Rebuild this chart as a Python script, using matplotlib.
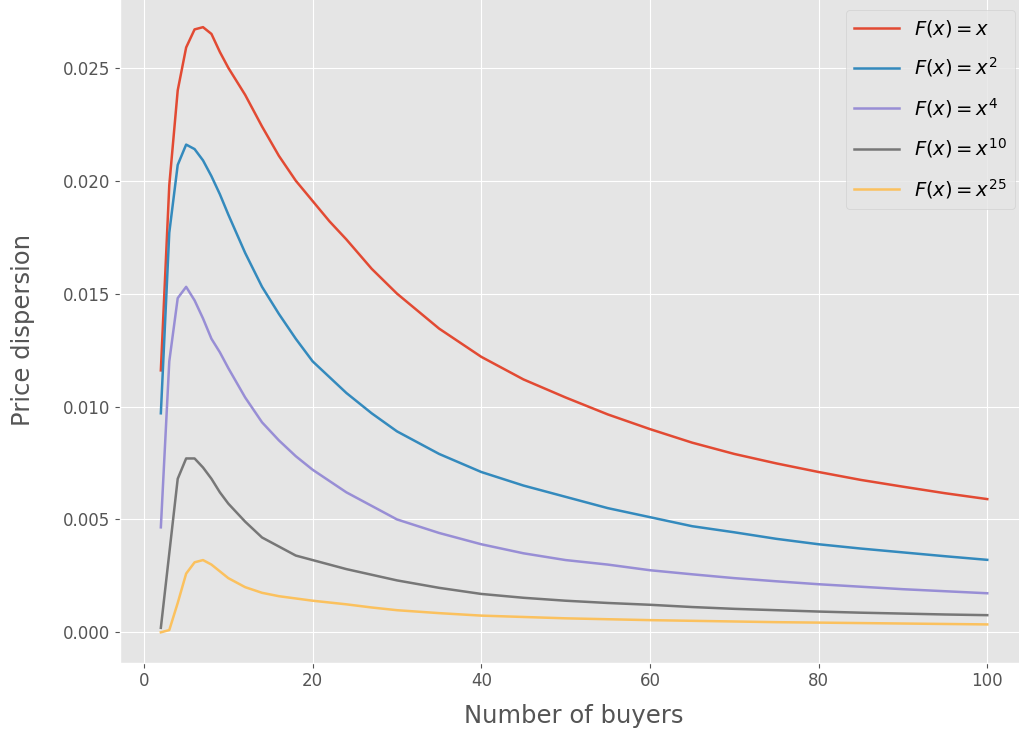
import matplotlib.pyplot as plt

plt.style.use("ggplot")

# values
buyers = [2, 3, 4, 5, 6, 7, 8, 9, 10, 12, 14, 16, 18, 20, 22, 24, 27, 30, 35, 40,
          45, 50, 55, 60, 65, 70, 75, 80, 85, 90, 95, 100]

disp_x1 = [0.0116, 0.0198, 0.0240, 0.0259, 0.0267, 0.0268, 0.0265, 0.0257, 0.0250,
           0.0238, 0.0224, 0.0211, 0.0200, 0.0191, 0.0182, 0.0174, 0.0161, 0.0150,
           0.01345, 0.0122, 0.0112, 0.0104, 0.00965, 0.0090, 0.0084, 0.0079, 0.00748,
           0.0071, 0.00675, 0.00645, 0.00616, 0.0059]
disp_x2 = [0.0097, 0.0177, 0.0207, 0.0216, 0.0214, 0.0209, 0.0202, 0.0194, 0.0185,
           0.0168, 0.0153, 0.0141, 0.0130, 0.0120, 0.0113, 0.0106, 0.0097, 0.0089,
           0.0079, 0.0071, 0.0065, 0.0060, 0.0055, 0.0051, 0.0047, 0.00443, 0.00414,
           0.0039, 0.00371, 0.00354, 0.00337, 0.00321]
disp_x4 = [0.00465, 0.0120, 0.0148, 0.0153, 0.0147, 0.0139, 0.0130, 0.0124, 0.0117,
           0.0104, 0.0093, 0.0085, 0.0078, 0.0072, 0.0067, 0.0062, 0.0056, 0.0050,
           0.0044, 0.0039, 0.0035, 0.0032, 0.0030, 0.00275, 0.00257, 0.0024, 0.00226,
           0.00213, 0.00202, 0.00191, 0.00182, 0.00173]
disp_x10 = [0.0002, 0.0035, 0.0068, 0.0077, 0.0077, 0.0073, 0.0068, 0.0062, 0.0057,
            0.0049, 0.0042, 0.0038, 0.0034, 0.0032, 0.0030, 0.0028, 0.00255, 0.0023,
            0.00197, 0.0017, 0.00153, 0.0014, 0.0013, 0.00122, 0.00112, 0.00104,
            0.00098, 0.00092, 0.00087, 0.00083, 0.00079, 0.00076]
disp_x25 = [0.0, 0.0001, 0.0013, 0.0026, 0.0031, 0.0032, 0.0030, 0.0027, 0.0024,
            0.0020, 0.00175, 0.0016, 0.0015, 0.0014, 0.00132, 0.00124, 0.0011, 0.00098,
            0.00085, 0.00074, 0.00068, 0.00062, 0.00058, 0.00054, 0.00051, 0.00048,
            0.00045, 0.00043, 0.00041, 0.00039, 0.00037, 0.00035]

labels = [r"$F(x) = x$", r"$F(x) = x^2$", r"$F(x) = x^4$",
          r"$F(x) = x^{10}$", r"$F(x) = x^{25}$"]


def main():
    fig = plt.figure(figsize=(10.19, 7.39), dpi=100)
    ax = fig.add_axes([0.1173, 0.1034, 0.8921, 0.9011])

    for ys, lab in zip([disp_x1, disp_x2, disp_x4, disp_x10, disp_x25], labels):
        ax.plot(buyers, ys, label=lab, linewidth=1.8)

    ax.set_xlim(-2.9, 104.9)
    ax.set_ylim(-0.00134, 0.02815)
    ax.set_xticks([0, 20, 40, 60, 80, 100])
    ax.set_yticks([0.0, 0.005, 0.010, 0.015, 0.020, 0.025])
    ax.tick_params(labelsize=12)
    ax.set_xlabel("Number of buyers", fontsize=17.5, labelpad=10)
    ax.set_ylabel("Price dispersion", fontsize=17.5, labelpad=20)
    ax.legend(loc="upper right", fontsize=14, labelspacing=0.85,
              handlelength=2.3, borderaxespad=0.7)

    fig.savefig("out.png", dpi=100)


if __name__ == "__main__":
    main()
